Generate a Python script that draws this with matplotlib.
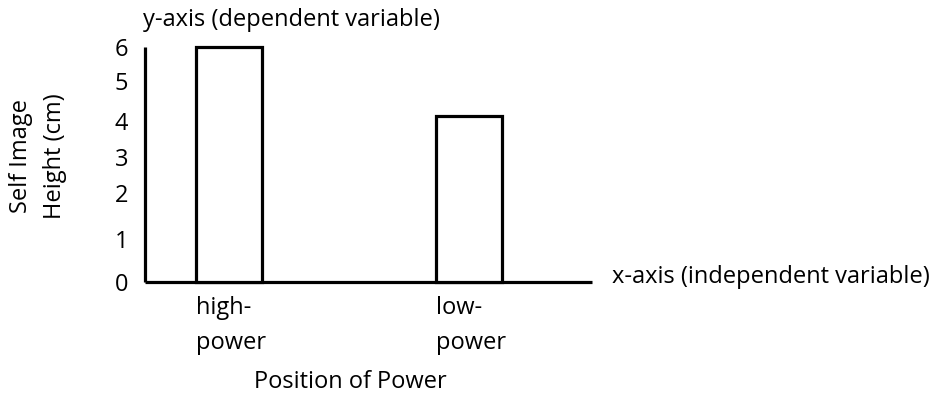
import numpy as np
import matplotlib.pyplot as plt

# data
categories = ['high-\npower', 'low-\npower']
heights = [6.0, 4.25]
ytick_values = [0, 1.1, 2.28, 3.2, 4.1, 5.13, 6.0]   # labels sit unevenly in the sketch
ytick_labels = ['0', '1', '2', '3', '4', '5', '6']

plt.rcParams['font.family'] = ['Open Sans', 'DejaVu Sans']
FS = 17

fig = plt.figure(figsize=(9.31, 3.93), dpi=100)
# axes spans the drawn axis lines: x 145..592 px, y 47..282 px
ax = fig.add_axes([145 / 931, 1 - 282 / 393, (592 - 145) / 931, (282 - 47) / 393])

x = np.arange(len(categories))
bar_w = 0.275
ax.bar(x, heights, width=bar_w, facecolor='white', edgecolor='black',
       linewidth=2.3, clip_on=False, zorder=3)

for side in ['top', 'right']:
    ax.spines[side].set_visible(False)
for side in ['left', 'bottom']:
    ax.spines[side].set_linewidth(2.3)
    ax.spines[side].set_capstyle('butt')

ax.set_yticks(ytick_values)
ax.set_yticklabels(ytick_labels, fontsize=FS)
ax.tick_params(axis='y', length=0, pad=12)
ax.set_xticks([])
ax.set_xlim(-0.35, 1.5125)
ax.set_ylim(0, 6)

# category labels left-aligned under each bar
for xi, lab in zip(x, categories):
    ax.annotate(lab, xy=(xi - bar_w / 2, 0), xycoords='data',
                xytext=(0, -10), textcoords='offset points',
                ha='left', va='top', fontsize=FS, linespacing=1.6)

fig.text(350 / 931, 1 - 382 / 393, 'Position of Power', ha='center', va='center', fontsize=FS)
fig.text(612 / 931, 1 - 277 / 393, 'x-axis (independent variable)', ha='left', va='center', fontsize=FS)
fig.text(143 / 931, 1 - 20 / 393, 'y-axis (dependent variable)', ha='left', va='center', fontsize=FS)
fig.text(38 / 931, 1 - 156 / 393, 'Self Image\nHeight (cm)', rotation=90,
         ha='center', va='center', fontsize=FS, linespacing=1.6)

fig.savefig('out.png', dpi=100)
